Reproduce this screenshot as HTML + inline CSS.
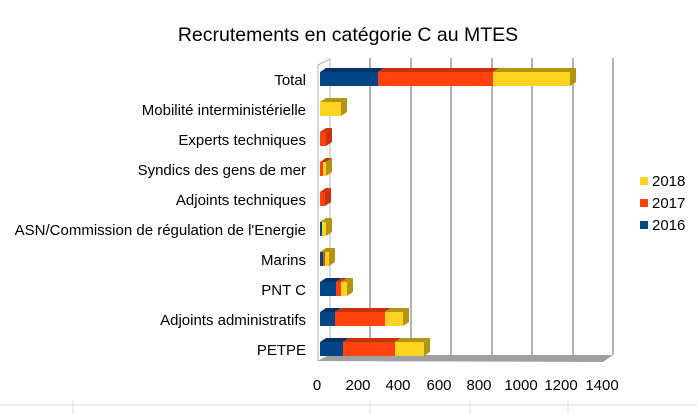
<!DOCTYPE html>
<html><head><style>body{margin:0;background:#fff}svg{display:block}text{font-family:"Liberation Sans",sans-serif;fill:#000}</style></head><body>
<svg width="697" height="414" viewBox="0 0 697 414">
<text x="348" y="41" font-size="19.5" text-anchor="middle">Recrutements en catégorie C au MTES</text>
<g stroke="#b3b3b3" stroke-width="2">
<line x1="370" y1="58" x2="370" y2="355"/><line x1="411" y1="58" x2="411" y2="355"/><line x1="451" y1="58" x2="451" y2="355"/><line x1="492" y1="58" x2="492" y2="355"/><line x1="532" y1="58" x2="532" y2="355"/><line x1="573" y1="58" x2="573" y2="355"/><line x1="613" y1="58" x2="613" y2="355"/>
</g>
<polyline points="318,65 330,59 330,355 318,361 318,65" fill="none" stroke="#b3b3b3" stroke-width="1"/>
<polygon points="318,361 330,355 613,355 603,362" fill="#a0a0a0"/>
<!-- Total y=72 -->
<polygon points="320,72 326,68 384,68 378,72" fill="#003468"/><rect x="320" y="72" width="58" height="14" fill="#004586"/>
<polygon points="378,72 384,68 499,68 493,72" fill="#c8330b"/><rect x="378" y="72" width="115" height="14" fill="#ff420e"/>
<polygon points="493,72 499,68 576,68 570,72" fill="#b39410"/><rect x="493" y="72" width="77" height="14" fill="#ffd320"/>
<polygon points="570,72 576,68 576,82 570,86" fill="#b39410"/>
<!-- Mobilite y=102 -->
<polygon points="320,102 326,98 347,98 341,102" fill="#b39410"/><rect x="320" y="102" width="21" height="14" fill="#ffd320"/>
<polygon points="341,102 347,98 347,112 341,116" fill="#b39410"/>
<!-- Experts y=132 -->
<polygon points="320,132 326,128 332,128 326,132" fill="#c8330b"/><rect x="320" y="132" width="6" height="14" fill="#ff420e"/>
<polygon points="326,132 332,128 332,142 326,146" fill="#c8330b"/>
<!-- Syndics y=162 -->
<polygon points="320,162 326,158 332,158 326,162" fill="#c8330b"/><rect x="320" y="162" width="3" height="14" fill="#ff420e"/><rect x="323" y="162" width="3" height="14" fill="#ffd320"/>
<polygon points="326,162 332,158 332,172 326,176" fill="#b39410"/>
<!-- Adj tech y=192 -->
<polygon points="320,192 326,188 331,188 325,192" fill="#c8330b"/><rect x="320" y="192" width="5" height="14" fill="#ff420e"/>
<polygon points="325,192 331,188 331,202 325,206" fill="#c8330b"/>
<!-- ASN y=222 -->
<polygon points="320,222 326,218 332,218 326,222" fill="#b39410"/><rect x="320" y="222" width="2" height="14" fill="#004586"/><rect x="322" y="222" width="4" height="14" fill="#ffd320"/>
<polygon points="326,222 332,218 332,232 326,236" fill="#b39410"/>
<!-- Marins y=252 -->
<polygon points="320,252 326,248 335,248 329,252" fill="#b39410"/><rect x="320" y="252" width="3" height="14" fill="#004586"/><rect x="323" y="252" width="2" height="14" fill="#ff420e"/><rect x="325" y="252" width="4" height="14" fill="#ffd320"/>
<polygon points="329,252 335,248 335,262 329,266" fill="#b39410"/>
<!-- PNT C y=282 -->
<polygon points="320,282 326,278 342,278 336,282" fill="#003468"/><rect x="320" y="282" width="16" height="14" fill="#004586"/>
<polygon points="336,282 342,278 347,278 341,282" fill="#c8330b"/><rect x="336" y="282" width="5" height="14" fill="#ff420e"/>
<polygon points="341,282 347,278 353,278 347,282" fill="#b39410"/><rect x="341" y="282" width="6" height="14" fill="#ffd320"/>
<polygon points="347,282 353,278 353,292 347,296" fill="#b39410"/>
<!-- Adj admin y=312 -->
<polygon points="320,312 326,308 341,308 335,312" fill="#003468"/><rect x="320" y="312" width="15" height="14" fill="#004586"/>
<polygon points="335,312 341,308 391,308 385,312" fill="#c8330b"/><rect x="335" y="312" width="50" height="14" fill="#ff420e"/>
<polygon points="385,312 391,308 409,308 403,312" fill="#b39410"/><rect x="385" y="312" width="18" height="14" fill="#ffd320"/>
<polygon points="403,312 409,308 409,322 403,326" fill="#b39410"/>
<!-- PETPE y=342 -->
<polygon points="320,342 326,338 349,338 343,342" fill="#003468"/><rect x="320" y="342" width="23" height="14" fill="#004586"/>
<polygon points="343,342 349,338 401,338 395,342" fill="#c8330b"/><rect x="343" y="342" width="52" height="14" fill="#ff420e"/>
<polygon points="395,342 401,338 430,338 424,342" fill="#b39410"/><rect x="395" y="342" width="29" height="14" fill="#ffd320"/>
<polygon points="424,342 430,338 430,352 424,356" fill="#b39410"/>
<g font-size="15" text-anchor="end">
<text x="306" y="85">Total</text>
<text x="306" y="115">Mobilité interministérielle</text>
<text x="306" y="145">Experts techniques</text>
<text x="306" y="175">Syndics des gens de mer</text>
<text x="306" y="205">Adjoints techniques</text>
<text x="306" y="235">ASN/Commission de régulation de l'Energie</text>
<text x="306" y="265">Marins</text>
<text x="306" y="295">PNT C</text>
<text x="306" y="325">Adjoints administratifs</text>
<text x="306" y="355">PETPE</text>
</g>
<g font-size="15" text-anchor="middle">
<text x="317" y="390">0</text><text x="358" y="390">200</text><text x="398" y="390">400</text><text x="439" y="390">600</text><text x="479" y="390">800</text><text x="521" y="390">1000</text><text x="561" y="390">1200</text><text x="602" y="390">1400</text>
</g>
<rect x="640" y="177" width="8" height="8" fill="#ffd320"/>
<rect x="640" y="199" width="8" height="8" fill="#ff420e"/>
<rect x="640" y="221" width="8" height="8" fill="#004586"/>
<g font-size="15"><text x="652" y="186">2018</text><text x="652" y="208">2017</text><text x="652" y="230">2016</text></g>
<g stroke="#ddd"><line x1="0" y1="405" x2="697" y2="405"/><line x1="370" y1="400" x2="370" y2="414"/><line x1="470" y1="400" x2="470" y2="414"/><line x1="568" y1="400" x2="568" y2="414"/><line x1="73" y1="400" x2="73" y2="414"/></g>
</svg>
</body></html>
